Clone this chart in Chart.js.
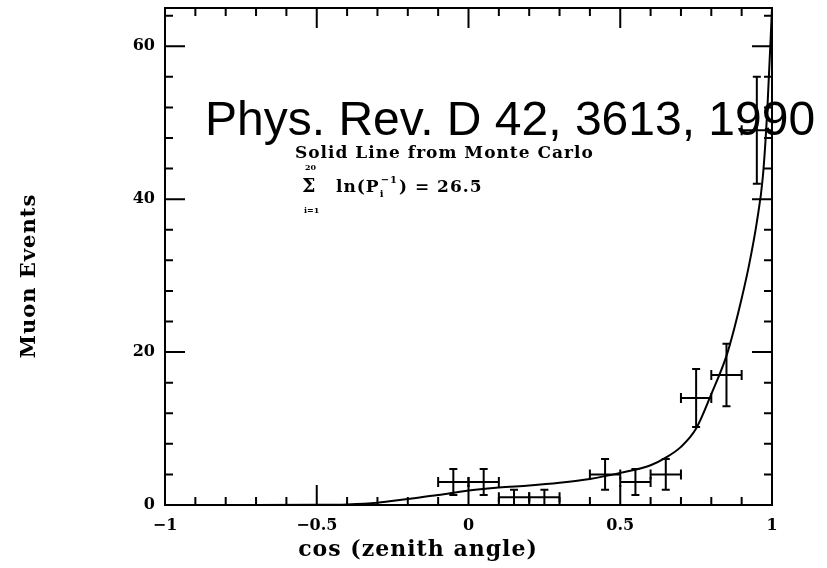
<!DOCTYPE html>
<html>
<head>
<meta charset="utf-8">
<script src="https://cdn.jsdelivr.net/npm/chart.js@4.4.0/dist/chart.umd.min.js"></script>
<style>
    html, body { margin: 0; padding: 0; background: #fff; }
    #wrap { width: 827px; height: 568px; }
</style>
</head>
<body>
<div id="wrap"><canvas id="chart" width="827" height="568"></canvas></div>
<script>
// measured muon counts per cos(zenith) bin
const binCenters = [-0.05, 0.05, 0.15, 0.25, 0.45, 0.55, 0.65, 0.75, 0.85, 0.95];
const binHalfWidth = [0.05, 0.05, 0.05, 0.05, 0.05, 0.05, 0.05, 0.05, 0.05, 0.05];
const counts = [3, 3, 1, 1, 4, 3, 4, 14, 17, 49];
const countErr = [1.7, 1.7, 1, 1, 2, 1.7, 2, 3.8, 4.1, 7];

// Monte Carlo expectation (solid line)
const curveX = [-1, -0.7, -0.5, -0.4, -0.3, -0.2, -0.1, 0, 0.1, 0.2, 0.3, 0.4, 0.5, 0.6, 0.65, 0.7, 0.75, 0.8, 0.85, 0.875, 0.9, 0.925, 0.95, 0.97, 0.985, 1];
const curveY = [0, 0, 0.02, 0.08, 0.3, 0.8, 1.3, 1.9, 2.3, 2.55, 2.9, 3.4, 4.2, 5.2, 6.2, 7.6, 10, 14.5, 19.5, 23, 27, 31.5, 37, 43, 52, 65];

const xTickValues = [-1, -0.5, 0, 0.5, 1];
const yTickValues = [0, 20, 40, 60];
const xMinorStep = 0.1;
const yMinorStep = 4;

const fmt = (v) => (v < 0 ? '\u2212' + Math.abs(v) : String(v));

const framePlugin = {
    id: 'framePlugin',
    afterDatasetsDraw(chart) {
        const ctx = chart.ctx;
        const xs = chart.scales.x;
        const ys = chart.scales.y;
        const {left, right, top, bottom} = chart.chartArea;

        ctx.save();
        ctx.strokeStyle = '#000';
        ctx.lineWidth = 2;
        ctx.lineCap = 'butt';

        // error bars with end caps
        binCenters.forEach((c, i) => {
            const px = xs.getPixelForValue(c);
            const py = ys.getPixelForValue(counts[i]);
            const x0 = xs.getPixelForValue(c - binHalfWidth[i]);
            const x1 = xs.getPixelForValue(c + binHalfWidth[i]);
            const y0 = ys.getPixelForValue(Math.max(0, counts[i] - countErr[i]));
            const y1 = ys.getPixelForValue(counts[i] + countErr[i]);
            ctx.beginPath();
            ctx.moveTo(x0, py); ctx.lineTo(x1, py);
            ctx.moveTo(x0, py - 5); ctx.lineTo(x0, py + 5);
            ctx.moveTo(x1, py - 5); ctx.lineTo(x1, py + 5);
            ctx.moveTo(px, y0); ctx.lineTo(px, y1);
            ctx.moveTo(px - 4, y0); ctx.lineTo(px + 4, y0);
            ctx.moveTo(px - 4, y1); ctx.lineTo(px + 4, y1);
            ctx.stroke();
        });

        // frame
        ctx.strokeRect(left, top, right - left, bottom - top);

        // inward ticks on all four sides
        ctx.beginPath();
        for (let k = 0; k <= 20; k++) {
            const v = -1 + k * xMinorStep;
            const len = k % 5 === 0 ? 20 : 8;
            const px = xs.getPixelForValue(v);
            ctx.moveTo(px, bottom); ctx.lineTo(px, bottom - len);
            ctx.moveTo(px, top); ctx.lineTo(px, top + len);
        }
        for (let v = 0; v <= ys.max; v += yMinorStep) {
            const len = v % 20 === 0 ? 20 : 8;
            const py = ys.getPixelForValue(v);
            ctx.moveTo(left, py); ctx.lineTo(left + len, py);
            ctx.moveTo(right, py); ctx.lineTo(right - len, py);
        }
        ctx.stroke();
        ctx.restore();
    },
    afterDraw(chart) {
        const ctx = chart.ctx;
        ctx.save();
        ctx.fillStyle = '#000';

        // axis titles
        ctx.font = 'bold 22px "DejaVu Serif"';
        ctx.letterSpacing = '1px';
        ctx.textAlign = 'center';
        ctx.textBaseline = 'middle';
        ctx.fillText('cos (zenith angle)', 418, 550);
        ctx.save();
        ctx.font = 'bold 21px "DejaVu Serif"';
        ctx.translate(30, 276);
        ctx.rotate(-Math.PI / 2);
        ctx.fillText('Muon Events', 0, 0);
        ctx.restore();

        // annotation from the paper
        ctx.textAlign = 'left';
        ctx.textBaseline = 'alphabetic';
        ctx.font = 'bold 17px "DejaVu Serif"';
        ctx.fillText('Solid Line from Monte Carlo', 295, 158);

        ctx.letterSpacing = '0px';
        ctx.font = 'bold 19px "DejaVu Serif"';
        ctx.fillText('\u03a3', 302, 192);
        ctx.font = 'bold 8px "DejaVu Serif"';
        ctx.fillText('20', 305, 170);
        ctx.fillText('i=1', 304, 213);
        ctx.letterSpacing = '1px';
        ctx.font = 'bold 17px "DejaVu Serif"';
        ctx.fillText('ln(P', 336, 192);
        const w = ctx.measureText('ln(P').width;
        ctx.font = 'bold 10px "DejaVu Serif"';
        ctx.fillText('i', 336 + w, 197);
        ctx.fillText('\u22121', 336 + w + 1, 183);
        const w2 = ctx.measureText('\u22121').width;
        ctx.font = 'bold 17px "DejaVu Serif"';
        ctx.fillText(') = 26.5', 336 + w + w2 + 2, 192);

        // citation overlay
        ctx.letterSpacing = '0px';
        ctx.font = '48px "Liberation Sans"';
        ctx.fillText('Phys. Rev. D 42, 3613, 1990', 205, 135);
        ctx.restore();
    }
};

const chart = new Chart(document.getElementById('chart'), {
    type: 'line',
    data: {
        datasets: [{
            label: 'Monte Carlo',
            data: curveX.map((x, i) => ({x, y: curveY[i]})),
            borderColor: '#000',
            borderWidth: 2,
            pointRadius: 0,
            fill: false,
            cubicInterpolationMode: 'monotone'
        }]
    },
    options: {
        responsive: false,
        animation: false,
        devicePixelRatio: 1,
        layout: {padding: {left: 0, right: 55, top: 8, bottom: 0}},
        plugins: {legend: {display: false}, tooltip: {enabled: false}},
        scales: {
            x: {
                type: 'linear',
                min: -1,
                max: 1,
                grid: {display: false, drawTicks: false},
                border: {display: false},
                afterFit: (scale) => {
                    scale.height = 63;
                    scale.paddingLeft = 0;
                    scale.paddingRight = 0;
                },
                afterBuildTicks: (scale) => { scale.ticks = xTickValues.map(v => ({value: v})); },
                ticks: {
                    color: '#000',
                    padding: 11,
                    maxRotation: 0,
                    font: {family: 'DejaVu Serif', weight: 'bold', size: 16},
                    callback: (v) => fmt(v)
                }
            },
            y: {
                type: 'linear',
                min: 0,
                max: 65,
                grid: {display: false, drawTicks: false},
                border: {display: false},
                afterFit: (scale) => {
                    scale.width = 165;
                    scale.paddingTop = 0;
                    scale.paddingBottom = 0;
                },
                afterBuildTicks: (scale) => { scale.ticks = yTickValues.map(v => ({value: v})); },
                ticks: {
                    color: '#000',
                    padding: 10,
                    font: {family: 'DejaVu Serif', weight: 'bold', size: 16},
                    callback: (v) => fmt(v)
                }
            }
        }
    },
    plugins: [framePlugin]
});
</script>
</body>
</html>
